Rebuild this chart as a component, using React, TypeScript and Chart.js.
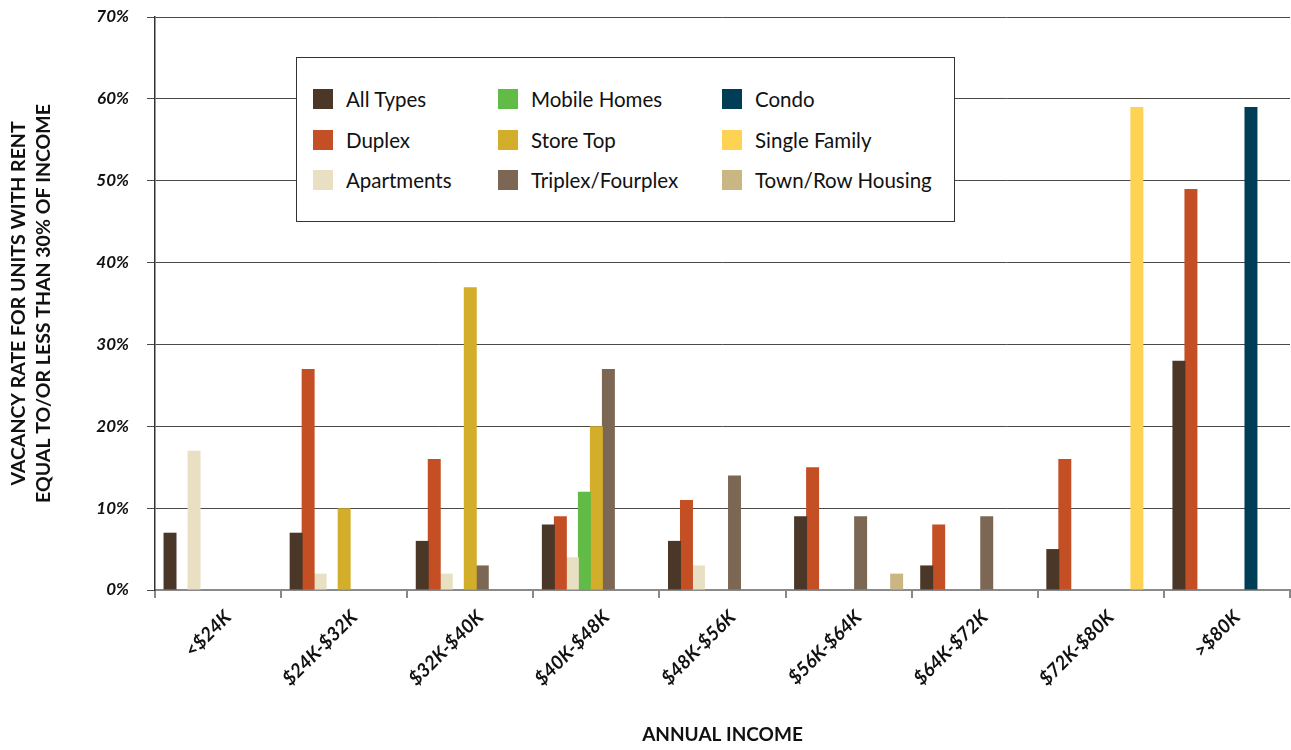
import React, { useEffect, useRef } from "react";
import { Chart, registerables } from "chart.js";

Chart.register(...registerables);

const categories = ["<$24K", "$24K-$32K", "$32K-$40K", "$40K-$48K", "$48K-$56K", "$56K-$64K", "$64K-$72K", "$72K-$80K", ">$80K"];
const seriesNames = ["All Types", "Duplex", "Apartments", "Mobile Homes", "Store Top", "Triplex/Fourplex", "Condo", "Single Family", "Town/Row Housing"];
const seriesColors = ["#4a3728", "#c44f24", "#e9dfc3", "#63bb47", "#d2ae2a", "#7b6753", "#003d57", "#fed253", "#cab682"];

const allTypes = [7, 7, 6, 8, 6, 9, 3, 5, 28];
const duplex = [0, 27, 16, 9, 11, 15, 8, 16, 49];
const apartments = [17, 2, 2, 4, 3, 0, 0, 0, 0];
const mobileHomes = [0, 0, 0, 12, 0, 0, 0, 0, 0];
const storeTop = [0, 10, 37, 20, 0, 0, 0, 0, 0];
const triplex = [0, 0, 3, 27, 14, 9, 9, 0, 0];
const condo = [0, 0, 0, 0, 0, 0, 0, 0, 59];
const singleFamily = [0, 0, 0, 0, 0, 0, 0, 59, 0];
const townRow = [0, 0, 0, 0, 0, 2, 0, 0, 0];

const seriesValues = [allTypes, duplex, apartments, mobileHomes, storeTop, triplex, condo, singleFamily, townRow];
const yTicks = [0, 10, 20, 30, 40, 50, 60, 70];

const FONT = "Lato, 'Open Sans', sans-serif";

export default function App() {
  const canvasRef = useRef<HTMLCanvasElement | null>(null);

  useEffect(() => {
    const ctx = canvasRef.current;
    if (!ctx) return;
    const chart = new Chart(ctx, {
      type: "bar",
      data: {
        labels: categories,
        datasets: seriesNames.map((name, i) => ({
          label: name,
          data: seriesValues[i],
          backgroundColor: seriesColors[i],
          borderWidth: 0,
          categoryPercentage: 0.857,
          barPercentage: 1.08,
        })),
      },
      options: {
        animation: false,
        responsive: false,
        maintainAspectRatio: false,
        layout: { padding: { top: 17, right: 1, left: 0, bottom: 0 } },
        plugins: {
          legend: { display: false },
          tooltip: { enabled: false },
        },
        scales: {
          x: {
            afterFit: (scale: any) => {
              scale.height = 160;
            },
            grid: {
              display: true,
              drawOnChartArea: false,
              drawTicks: true,
              tickLength: 8,
              color: "#888",
              lineWidth: 2,
            },
            border: { display: true, color: "#8a8a8a", width: 2 },
            ticks: {
              maxRotation: 45,
              minRotation: 45,
              padding: 8,
              labelOffset: 10,
              color: "#111",
              font: { family: FONT, size: 19, weight: "bold", style: "italic" },
            },
            title: {
              display: true,
              text: "ANNUAL INCOME",
              color: "#111",
              font: { family: FONT, size: 19, weight: "bold" },
              padding: { top: 0, bottom: 4 },
            },
          },
          y: {
            min: 0,
            max: 70,
            afterFit: (scale: any) => {
              scale.width = 155;
              scale.paddingTop = 0;
              scale.paddingBottom = 0;
            },
            afterBuildTicks: (scale: any) => {
              scale.ticks = yTicks.map((v) => ({ value: v }));
            },
            grid: {
              color: "#4a4a4a",
              lineWidth: 1,
              drawTicks: true,
              tickLength: 8,
            },
            border: { display: true, color: "#333", width: 1.5 },
            ticks: {
              padding: 18,
              color: "#111",
              font: { family: FONT, size: 17, weight: "bold", style: "italic" },
              callback: (v: any) => v + "%",
            },
            title: {
              display: true,
              text: ["VACANCY RATE FOR UNITS WITH RENT", "EQUAL TO/OR LESS THAN 30% OF INCOME"],
              color: "#111",
              font: { family: FONT, size: 19.5, weight: "bold", lineHeight: 1.3 },
              padding: { top: 6, bottom: 0 },
            },
          },
        },
      },
    });
    return () => chart.destroy();
  }, []);

  return (
    <div style={{ position: "fixed", left: 0, top: 0, width: 1291, height: 750, background: "#fff" }}>
      <canvas ref={canvasRef} width={1291} height={750} style={{ display: "block", width: 1291, height: 750 }} />
      <div
        style={{
          position: "absolute",
          left: 296,
          top: 57,
          width: 657,
          height: 163,
          border: "1.5px solid #333",
          background: "#fff",
          fontFamily: FONT,
          fontSize: 20.5,
          color: "#111",
        }}
      >
        {seriesNames.map((name, i) => {
          const col = Math.floor(i / 3);
          const row = i % 3;
          const colX = [16, 201, 425][col];
          return (
            <div
              key={name}
              style={{
                position: "absolute",
                left: colX,
                top: 30 + row * 40.5,
                height: 22,
                display: "flex",
                alignItems: "center",
                whiteSpace: "nowrap",
              }}
            >
              <span style={{ display: "inline-block", width: 20, height: 20, background: seriesColors[i], marginRight: 13 }} />
              <span>{name}</span>
            </div>
          );
        })}
      </div>
    </div>
  );
}
